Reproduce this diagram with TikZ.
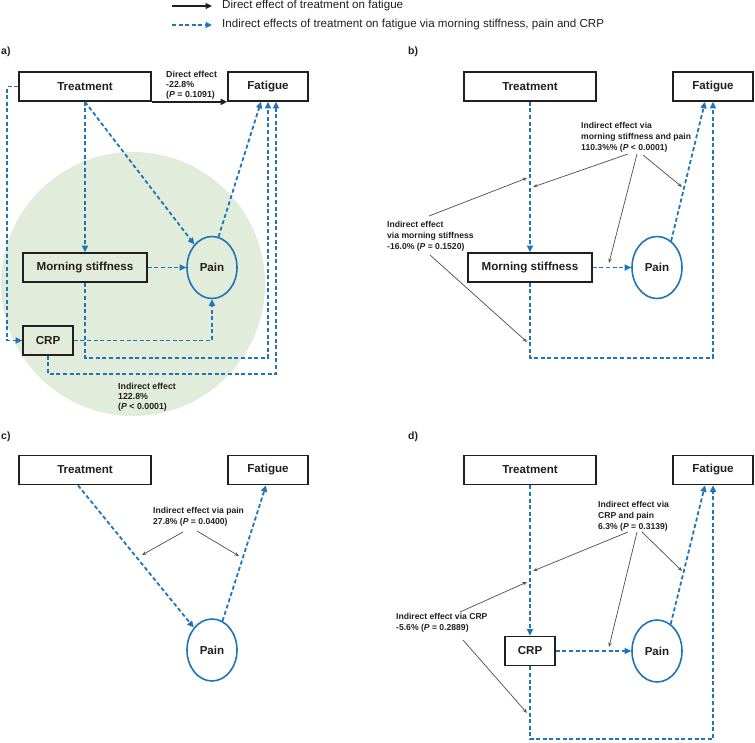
\documentclass[tikz,border=0pt]{standalone}
\usepackage{fontspec}
\setmainfont{Liberation Sans}
\usetikzlibrary{arrows.meta,shapes.geometric,calc}
\definecolor{myblue}{HTML}{1F74BA}
\definecolor{mygreen}{HTML}{E1ECDA}
\definecolor{myink}{HTML}{231F20}
\definecolor{mygray}{HTML}{555555}
\begin{document}
\begin{tikzpicture}[x=1pt,y=-1pt,
  box/.style={draw=myink,line width=1.7pt,rectangle,minimum height=29pt,inner sep=0pt,font=\fontsize{11.6}{13}\selectfont\bfseries,text=myink},
  oval/.style={draw=myblue,line width=1.6pt,ellipse,minimum width=50pt,minimum height=62pt,inner sep=0pt,font=\fontsize{11.6}{13}\selectfont\bfseries,text=myink},
  ind/.style={draw=myblue,line width=1.8pt,dash pattern=on 4pt off 2.6pt,-{Triangle[length=6.5pt,width=6pt]}},
  dir/.style={draw=myink,line width=1.5pt,-{Triangle[length=6.5pt,width=6pt]}},
  note/.style={draw=mygray,line width=0.75pt,-{Stealth[length=4.5pt,width=3.5pt]}},
  lbl/.style={anchor=north west,inner sep=0pt,align=left,font=\fontsize{8.6}{10.6}\selectfont\bfseries,text=myink},
  plab/.style={anchor=west,inner sep=0pt,font=\fontsize{10.5}{12}\selectfont\bfseries,text=myink},
  leg/.style={anchor=west,inner sep=0pt,font=\fontsize{11.6}{13}\selectfont,text=myink}]
\useasboundingbox (0,0) rectangle (755,743);

% legend
\coordinate (l1a) at (172,6); \coordinate (l1b) at (212,6);
\coordinate (l2a) at (172,25); \coordinate (l2b) at (212,25);
\draw[dir] (l1a) -- (l1b);
\draw[ind] (l2a) -- (l2b);
\node[leg] (lt1) at (222,6) {Direct effect of treatment on fatigue};
\node[leg] (lt2) at (222,25) {Indirect effects of treatment on fatigue via morning stiffness, pain and CRP};

% panel labels
\node[plab] (pa) at (1,52) {a)};
\node[plab] (pb) at (408,52) {b)};
\node[plab] (pc) at (1,437) {c)};
\node[plab] (pd) at (408,437) {d)};

% ---------------- panel a
\fill[mygreen] (133,284) circle[radius=132];
\node[box,minimum width=132pt] (aT) at (85,86.5) {Treatment};
\node[box,minimum width=80pt] (aF) at (268,86.5) {Fatigue};
\node[box,minimum width=124pt] (aM) at (85,267.5) {Morning stiffness};
\node[oval] (aP) at (212,267.5) {Pain};
\node[box,minimum width=50pt] (aC) at (48,340.5) {CRP};
\draw[dir] (aT.south east) -- (aF.south west);
\node[lbl,font=\fontsize{8.8}{10.4}\selectfont\bfseries] (aD) at (166,70.5) {Direct effect\\-22.8\%\\(\textit{P} = 0.1091)};
\draw[ind] (aT.west) -- ++(-11,0) |- (aC.west);
\draw[ind] (aT.south) -- (aM.north);
\draw[ind] (aT.south) -- (aP);
\draw[ind] (aM.east) -- (aP.west);
\draw[ind] (aP.78) -- ($(aF.south)+(-7,0)$);
\draw[ind] (aC.east) -| (aP.south);
\draw[ind] (aM.south) -- ++(0,75) -| (aF.south);
\draw[ind] (aC.south) -- ++(0,18) -| ($(aF.south)+(8,0)$);
\node[lbl,font=\fontsize{8.8}{10}\selectfont\bfseries] (aI) at (118,383) {Indirect effect\\122.8\%\\(\textit{P} < 0.0001)};

% ---------------- panel b
\node[box,minimum width=132pt] (bT) at (530,86.5) {Treatment};
\node[box,minimum width=80pt] (bF) at (713,86.5) {Fatigue};
\node[box,minimum width=124pt] (bM) at (530,267.5) {Morning stiffness};
\node[oval] (bP) at (657,267.5) {Pain};
\draw[ind] (bT.south) -- (bM.north);
\draw[ind] (bM.east) -- (bP.west);
\draw[ind] (bP.62) -- ($(bF.south)+(-8,0)$);
\draw[ind] (bM.south) -- ++(0,75) -| (bF.south);
\node[lbl] (bL1) at (581,122.5) {Indirect effect via\\morning stiffness and pain\\110.3\%\% (\textit{P} < 0.0001)};
\node[lbl] (bL2) at (387,221.5) {Indirect effect\\via morning stiffness\\-16.0\% (\textit{P} = 0.1520)};
\coordinate (b1s) at (628,154); \coordinate (b1e) at (533,187);
\coordinate (b2s) at (637,154); \coordinate (b2e) at (609,263);
\coordinate (b3s) at (643,155); \coordinate (b3e) at (682,187);
\coordinate (b4s) at (429,216); \coordinate (b4e) at (527,178);
\coordinate (b5s) at (430,255); \coordinate (b5e) at (527,342);
\draw[note] (b1s) -- (b1e);
\draw[note] (b2s) -- (b2e);
\draw[note] (b3s) -- (b3e);
\draw[note] (b4s) -- (b4e);
\draw[note] (b5s) -- (b5e);

% ---------------- panel c
\node[box,minimum width=132pt] (cT) at (85,470) {Treatment};
\node[box,minimum width=80pt] (cF) at (268,470) {Fatigue};
\node[oval] (cP) at (212,650) {Pain};
\draw[ind] ($(cT.south)+(-7,0)$) -- (cP);
\draw[ind] (cP.70) -- ($(cF.south)+(-2,0)$);
\node[lbl] (cL) at (153,507.5) {Indirect effect via pain\\27.8\% (\textit{P} = 0.0400)};
\coordinate (c1s) at (183,532); \coordinate (c1e) at (142,555);
\coordinate (c2s) at (197,531); \coordinate (c2e) at (239,556);
\draw[note] (c1s) -- (c1e);
\draw[note] (c2s) -- (c2e);

% ---------------- panel d
\node[box,minimum width=132pt] (dT) at (530,470) {Treatment};
\node[box,minimum width=80pt] (dF) at (713,470) {Fatigue};
\node[box,minimum width=50pt] (dC) at (530,651) {CRP};
\node[oval] (dP) at (657,651) {Pain};
\draw[ind] (dT.south) -- (dC.north);
\draw[ind] (dC.east) -- (dP.west);
\draw[ind] (dP.63) -- ($(dF.south)+(-8,0)$);
\draw[ind] (dC.south) -- ++(0,73) -| (dF.south);
\node[lbl] (dL1) at (598,501.5) {Indirect effect via\\CRP and pain\\6.3\% (\textit{P} = 0.3139)};
\node[lbl] (dL2) at (396,613.5) {Indirect effect via CRP\\-5.6\% (\textit{P} = 0.2889)};
\coordinate (d1s) at (628,532); \coordinate (d1e) at (533,571);
\coordinate (d2s) at (637,532); \coordinate (d2e) at (609,647);
\coordinate (d3s) at (642,532); \coordinate (d3e) at (682,571);
\coordinate (d4s) at (460,612); \coordinate (d4e) at (527,582);
\coordinate (d5s) at (463,640); \coordinate (d5e) at (527,713);
\draw[note] (d1s) -- (d1e);
\draw[note] (d2s) -- (d2e);
\draw[note] (d3s) -- (d3e);
\draw[note] (d4s) -- (d4e);
\draw[note] (d5s) -- (d5e);
\end{tikzpicture}
\end{document}
